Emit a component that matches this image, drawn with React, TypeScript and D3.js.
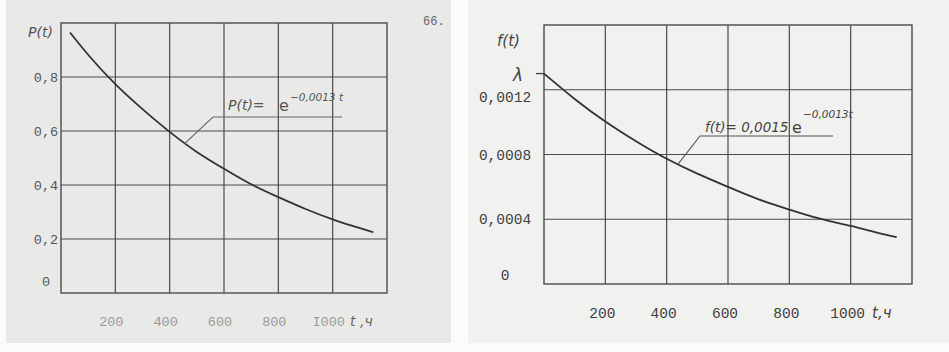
import * as d3 from "d3";
import React, { useEffect, useRef } from "react";

// readings
const hourTicks = [200, 400, 600, 800, 1000];
const leftHourLabels = ["200", "400", "600", "800", "I000"];
const rightHourLabels = ["200", "400", "600", "800", "1000"];

const pTicks = [0, 0.2, 0.4, 0.6, 0.8];
const pTickLabels = ["0", "0,2", "0,4", "0,6", "0,8"];
const fTicks = [0, 0.0004, 0.0008, 0.0012];
const fTickLabels = ["0", "0,0004", "0,0008", "0,0012"];

const pHours = [33, 100, 200, 300, 400, 500, 600, 700, 800, 900, 1000, 1100, 1150];
const pValues = [0.965, 0.88, 0.77, 0.68, 0.595, 0.52, 0.46, 0.4, 0.355, 0.31, 0.272, 0.24, 0.225];

const fHours = [0, 100, 200, 300, 400, 500, 600, 700, 800, 900, 1000, 1100, 1150];
const fValues = [0.0013, 0.00114, 0.001, 0.00088, 0.00077, 0.00068, 0.0006, 0.00052, 0.00046, 0.0004, 0.00036, 0.00031, 0.00029];

// point on each curve where the formula's leader line lands
const pLeader = [455, 0.553];
const fLeader = [437, 0.00074];

const ink = "#4a4a4a";
const hand = "'DejaVu Sans', sans-serif";
const typewriter = "'Liberation Mono', 'DejaVu Sans Mono', monospace";

const App: React.FC = () => {
  const ref = useRef<SVGSVGElement>(null);

  useEffect(() => {
    if (!ref.current) return;
    const svg = d3.select(ref.current);
    svg.selectAll("*").remove();

    // paper
    svg.append("rect").attr("width", 949).attr("height", 352).attr("fill", "#fbfbfa");
    svg.append("rect").attr("x", 6).attr("y", 0).attr("width", 445).attr("height", 343).attr("fill", "#e9e9e7");
    svg.append("rect").attr("x", 468).attr("y", 0).attr("width", 481).attr("height", 343).attr("fill", "#f1f1ef");

    const line = d3.line<[number, number]>().curve(d3.curveBasis);

    // ---------- left: P(t)
    const xL = d3.scaleLinear().domain([0, 1200]).range([61, 387]);
    const yL = d3.scaleLinear().domain([0, 1]).range([293, 23]);
    const gL = svg.append("g");

    gL.selectAll("line.v")
      .data(hourTicks)
      .enter()
      .append("line")
      .attr("x1", (d) => xL(d))
      .attr("x2", (d) => xL(d))
      .attr("y1", yL(0))
      .attr("y2", yL(1))
      .attr("stroke", ink)
      .attr("stroke-width", 1.2);
    gL.selectAll("line.h")
      .data(pTicks.filter((d) => d > 0))
      .enter()
      .append("line")
      .attr("x1", xL(0))
      .attr("x2", xL(1200))
      .attr("y1", (d) => yL(d))
      .attr("y2", (d) => yL(d))
      .attr("stroke", ink)
      .attr("stroke-width", 1.2);
    gL.append("rect")
      .attr("x", xL(0))
      .attr("y", yL(1))
      .attr("width", xL(1200) - xL(0))
      .attr("height", yL(0) - yL(1))
      .attr("fill", "none")
      .attr("stroke", ink)
      .attr("stroke-width", 1.4);

    gL.selectAll("text.yt")
      .data(pTicks)
      .enter()
      .append("text")
      .attr("x", 46)
      .attr("y", (d) => yL(d) + (d === 0 ? -12 : 0))
      .attr("dy", "0.35em")
      .attr("text-anchor", "middle")
      .attr("font-family", typewriter)
      .attr("font-size", 13.5)
      .attr("fill", "#555")
      .text((_, i) => pTickLabels[i]);
    gL.selectAll("text.xt")
      .data(hourTicks)
      .enter()
      .append("text")
      .attr("x", (d) => xL(d) - 4)
      .attr("y", 326)
      .attr("text-anchor", "middle")
      .attr("font-family", typewriter)
      .attr("font-size", 13.5)
      .attr("fill", "#9a9a9a")
      .text((_, i) => leftHourLabels[i]);
    gL.append("text")
      .attr("x", 350)
      .attr("y", 326)
      .attr("font-family", hand)
      .attr("font-style", "italic")
      .attr("font-size", 14)
      .attr("fill", "#666")
      .text("t ,ч");
    gL.append("text")
      .attr("x", 28)
      .attr("y", 37)
      .attr("font-family", hand)
      .attr("font-style", "italic")
      .attr("font-size", 14)
      .attr("fill", "#555")
      .text("P(t)");
    gL.append("text")
      .attr("x", 423)
      .attr("y", 25)
      .attr("font-family", typewriter)
      .attr("font-size", 12)
      .attr("fill", "#666")
      .text("66.");

    gL.append("path")
      .attr("d", line(pHours.map((t, i) => [xL(t), yL(pValues[i])]))!)
      .attr("fill", "none")
      .attr("stroke", "#333")
      .attr("stroke-width", 1.8);

    gL.append("polyline")
      .attr("points", `${xL(pLeader[0])},${yL(pLeader[1])} 213,117 342,117`)
      .attr("fill", "none")
      .attr("stroke", "#666")
      .attr("stroke-width", 1.1);
    gL.append("text")
      .attr("x", 228)
      .attr("y", 110)
      .attr("font-family", hand)
      .attr("font-style", "italic")
      .attr("font-size", 14)
      .attr("fill", "#555")
      .text("P(t)=");
    gL.append("text")
      .attr("x", 279)
      .attr("y", 111)
      .attr("font-family", hand)
      .attr("font-size", 16)
      .attr("fill", "#555")
      .text("e");
    gL.append("text")
      .attr("x", 290)
      .attr("y", 101)
      .attr("font-family", hand)
      .attr("font-style", "italic")
      .attr("font-size", 10.5)
      .attr("fill", "#555")
      .text("−0,0013 t");

    // ---------- right: f(t)
    const xR = d3.scaleLinear().domain([0, 1200]).range([544, 912]);
    const yR = d3.scaleLinear().domain([0, 0.0016]).range([284, 25]);
    const gR = svg.append("g");

    gR.selectAll("line.v")
      .data(hourTicks)
      .enter()
      .append("line")
      .attr("x1", (d) => xR(d))
      .attr("x2", (d) => xR(d))
      .attr("y1", yR(0))
      .attr("y2", yR(0.0016))
      .attr("stroke", ink)
      .attr("stroke-width", 1.2);
    gR.selectAll("line.h")
      .data(fTicks.filter((d) => d > 0))
      .enter()
      .append("line")
      .attr("x1", xR(0))
      .attr("x2", xR(1200))
      .attr("y1", (d) => yR(d))
      .attr("y2", (d) => yR(d))
      .attr("stroke", ink)
      .attr("stroke-width", 1.2);
    gR.append("rect")
      .attr("x", xR(0))
      .attr("y", yR(0.0016))
      .attr("width", xR(1200) - xR(0))
      .attr("height", yR(0) - yR(0.0016))
      .attr("fill", "none")
      .attr("stroke", ink)
      .attr("stroke-width", 1.4);

    gR.selectAll("text.yt")
      .data(fTicks)
      .enter()
      .append("text")
      .attr("x", 505)
      .attr("y", (d) => yR(d) + (d === 0 ? -9 : d === 0.0012 ? 7 : 0))
      .attr("dy", "0.35em")
      .attr("text-anchor", "middle")
      .attr("font-family", typewriter)
      .attr("font-size", 14.5)
      .attr("fill", "#3f3f3f")
      .text((_, i) => fTickLabels[i]);
    gR.selectAll("text.xt")
      .data(hourTicks)
      .enter()
      .append("text")
      .attr("x", (d) => xR(d) - 3)
      .attr("y", 318)
      .attr("text-anchor", "middle")
      .attr("font-family", typewriter)
      .attr("font-size", 14.5)
      .attr("fill", "#3f3f3f")
      .text((_, i) => rightHourLabels[i]);
    gR.append("text")
      .attr("x", 872)
      .attr("y", 318)
      .attr("font-family", hand)
      .attr("font-style", "italic")
      .attr("font-size", 15)
      .attr("fill", "#444")
      .text("t,ч");
    gR.append("text")
      .attr("x", 497)
      .attr("y", 46)
      .attr("font-family", hand)
      .attr("font-style", "italic")
      .attr("font-size", 15)
      .attr("fill", "#444")
      .text("f(t)");
    gR.append("text")
      .attr("x", 513)
      .attr("y", 81)
      .attr("font-family", hand)
      .attr("font-style", "italic")
      .attr("font-size", 17)
      .attr("fill", "#444")
      .text("λ");
    gR.append("line")
      .attr("x1", 536)
      .attr("x2", xR(0))
      .attr("y1", yR(fValues[0]))
      .attr("y2", yR(fValues[0]))
      .attr("stroke", "#444")
      .attr("stroke-width", 1.3);

    gR.append("path")
      .attr("d", line(fHours.map((t, i) => [xR(t), yR(fValues[i])]))!)
      .attr("fill", "none")
      .attr("stroke", "#333")
      .attr("stroke-width", 1.8);

    gR.append("polyline")
      .attr("points", `${xR(fLeader[0])},${yR(fLeader[1])} 700,136 833,136`)
      .attr("fill", "none")
      .attr("stroke", "#555")
      .attr("stroke-width", 1.1);
    gR.append("text")
      .attr("x", 705)
      .attr("y", 132)
      .attr("font-family", hand)
      .attr("font-style", "italic")
      .attr("font-size", 13.5)
      .attr("fill", "#444")
      .text("f(t)= 0,0015");
    gR.append("text")
      .attr("x", 792)
      .attr("y", 133)
      .attr("font-family", hand)
      .attr("font-size", 16)
      .attr("fill", "#444")
      .text("e");
    gR.append("text")
      .attr("x", 803)
      .attr("y", 118)
      .attr("font-family", hand)
      .attr("font-style", "italic")
      .attr("font-size", 10.5)
      .attr("fill", "#444")
      .text("−0,0013t");
  }, []);

  return (
    <svg
      ref={ref}
      width={949}
      height={352}
      style={{ position: "absolute", left: 0, top: 0, display: "block" }}
    ></svg>
  );
};

export default App;
